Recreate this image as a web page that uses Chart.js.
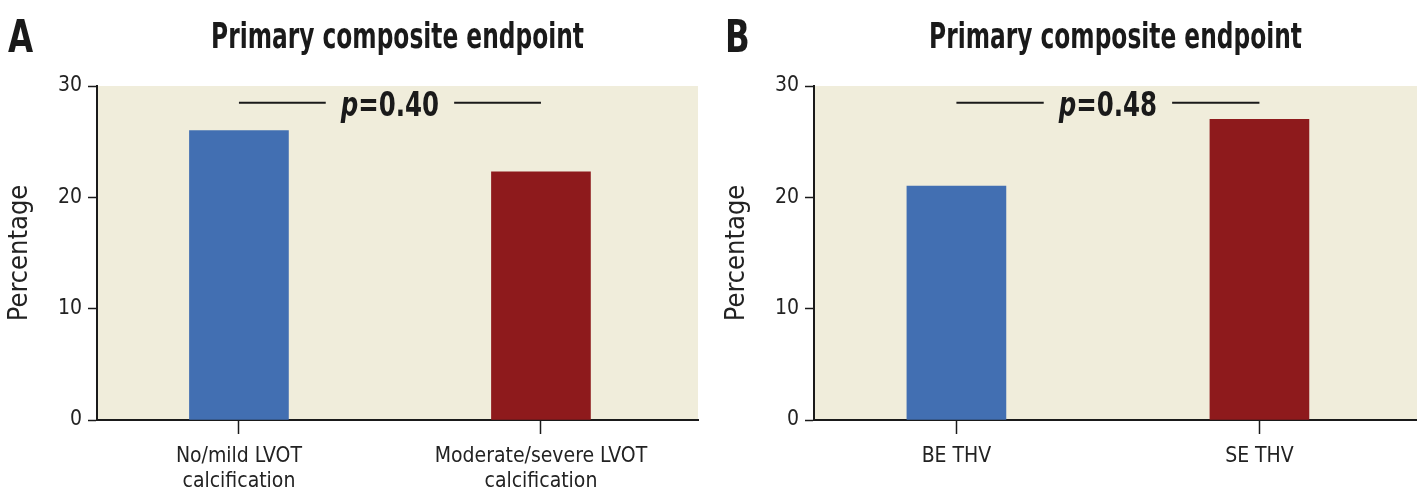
<!DOCTYPE html>
<html>
<head>
<meta charset="utf-8">
<script src="https://cdn.jsdelivr.net/npm/chart.js@4.4.1/dist/chart.umd.min.js"></script>
<style>
    body { margin: 0; background: #fff; }
    .panel { position: absolute; top: 0; height: 497px; }
    #panelA { left: 0; width: 708px; }
    #panelB { left: 708px; width: 709px; }
</style>
</head>
<body>
<div class="panel" id="panelA"><canvas id="chartA"></canvas></div>
<div class="panel" id="panelB"><canvas id="chartB"></canvas></div>
<script>
// Data
const categoriesA = [['No/mild LVOT', 'calcification'], ['Moderate/severe LVOT', 'calcification']];
const valuesA = [26.0, 22.3];
const categoriesB = ['BE THV', 'SE THV'];
const valuesB = [21.0, 27.0];
const pValues = ['0.40', '0.48'];
const pLineLevel = 28.5;
const yTicks = [0, 10, 20, 30];
const titleText = 'Primary composite endpoint';

const FONT = "'Liberation Sans Narrow', 'DejaVu Sans Condensed', 'Roboto', sans-serif";
const barColors = ['#426fb2', '#8e1a1c'];
const plotBg = '#f0eddb';
const ink = '#1a1a1a';

// Draw text squeezed horizontally (the original uses a condensed face)
function drawCondensed(ctx, text, x, y, font, sx, align) {
    ctx.save();
    ctx.font = font;
    const w = ctx.measureText(text).width * sx;
    let left = x;
    if (align === 'center') left = x - w / 2;
    ctx.translate(left, y);
    ctx.scale(sx, 1);
    ctx.textAlign = 'left';
    ctx.fillText(text, 0, 0);
    ctx.restore();
    return w;
}

// Fill chart area, draw title, panel letter and p-value bracket
const panelPlugin = {
    id: 'panelDecor',
    beforeDraw(chart) {
        const { ctx, chartArea } = chart;
        ctx.save();
        ctx.fillStyle = plotBg;
        ctx.fillRect(chartArea.left, chartArea.top, chartArea.right - chartArea.left, chartArea.bottom - chartArea.top);
        ctx.restore();
    },
    afterDraw(chart, args, opts) {
        const { ctx, chartArea } = chart;
        const xs = chart.scales.x;
        const ys = chart.scales.y;

        ctx.save();
        ctx.fillStyle = ink;
        ctx.textBaseline = 'alphabetic';

        // panel letter and title
        drawCondensed(ctx, opts.letter, opts.letterX, 52, `bold 44px ${FONT}`, 0.82, 'left');
        drawCondensed(ctx, titleText, (chartArea.left + chartArea.right) / 2, 48, `bold 36px ${FONT}`, 0.72, 'center');

        // p-value line
        const x0 = xs.getPixelForValue(0);
        const x1 = xs.getPixelForValue(1);
        const y = ys.getPixelForValue(pLineLevel);
        const mid = (x0 + x1) / 2;
        const sx = 0.8;
        const fontP = `italic bold 34px ${FONT}`;
        const fontR = `bold 34px ${FONT}`;
        ctx.font = fontP;
        const wP = ctx.measureText('p').width * sx;
        ctx.font = fontR;
        const rest = '=' + opts.p;
        const wR = ctx.measureText(rest).width * sx;
        const w = wP + wR;
        const gap = 15;

        ctx.strokeStyle = ink;
        ctx.lineWidth = 2;
        ctx.beginPath();
        ctx.moveTo(x0, y);
        ctx.lineTo(mid - w / 2 - gap, y);
        ctx.moveTo(mid + w / 2 + gap, y);
        ctx.lineTo(x1, y);
        ctx.stroke();

        drawCondensed(ctx, 'p', mid - w / 2, y + 13, fontP, sx, 'left');
        drawCondensed(ctx, rest, mid - w / 2 + wP, y + 13, fontR, sx, 'left');
        ctx.restore();
    }
};

function makeChart(canvasId, labels, values, p, letter, letterX, yWidth, yTitlePad, rightPad) {
    const ctx = document.getElementById(canvasId).getContext('2d');
    return new Chart(ctx, {
        type: 'bar',
        data: {
            datasets: [{
                data: values.map((v, i) => ({ x: i, y: v })),
                backgroundColor: barColors,
                borderWidth: 0,
                barThickness: 99
            }]
        },
        options: {
            responsive: true,
            maintainAspectRatio: false,
            animation: false,
            layout: { padding: { left: 0, right: rightPad, top: 86, bottom: 0 } },
            scales: {
                x: {
                    type: 'linear',
                    offset: false,
                    min: -0.47,
                    max: 1.52,
                    afterBuildTicks(scale) { scale.ticks = labels.map((l, i) => ({ value: i })); },
                    grid: {
                        offset: false,
                        drawOnChartArea: false,
                        drawTicks: true,
                        tickLength: 14,
                        tickWidth: 1.5,
                        color: ink
                    },
                    border: { display: true, color: ink, width: 2 },
                    ticks: {
                        color: '#222',
                        padding: 10,
                        maxRotation: 0,
                        autoSkip: false,
                        callback: (v) => labels[v],
                        font: { family: FONT, size: 21, lineHeight: 1.2 }
                    },
                    afterFit(scale) { scale.height = 77; }
                },
                y: {
                    min: 0,
                    max: 30,
                    afterBuildTicks(scale) { scale.ticks = yTicks.map(v => ({ value: v })); },
                    grid: {
                        drawOnChartArea: false,
                        drawTicks: true,
                        tickLength: 9,
                        tickWidth: 1.5,
                        color: ink
                    },
                    border: { display: true, color: ink, width: 2 },
                    ticks: {
                        color: '#222',
                        padding: 6,
                        font: { family: FONT, size: 21 }
                    },
                    title: {
                        display: true,
                        text: 'Percentage',
                        color: '#222',
                        padding: { top: yTitlePad, bottom: 0 },
                        font: { family: FONT, size: 27 }
                    },
                    afterFit(scale) { scale.width = yWidth; }
                }
            },
            plugins: {
                legend: { display: false },
                tooltip: { enabled: false },
                panelDecor: { letter: letter, letterX: letterX, p: p }
            }
        },
        plugins: [panelPlugin]
    });
}

makeChart('chartA', categoriesA, valuesA, pValues[0], 'A', 8, 97, 4, 10);
makeChart('chartB', categoriesB, valuesB, pValues[1], 'B', 17, 106, 13, 0);
</script>
</body>
</html>
